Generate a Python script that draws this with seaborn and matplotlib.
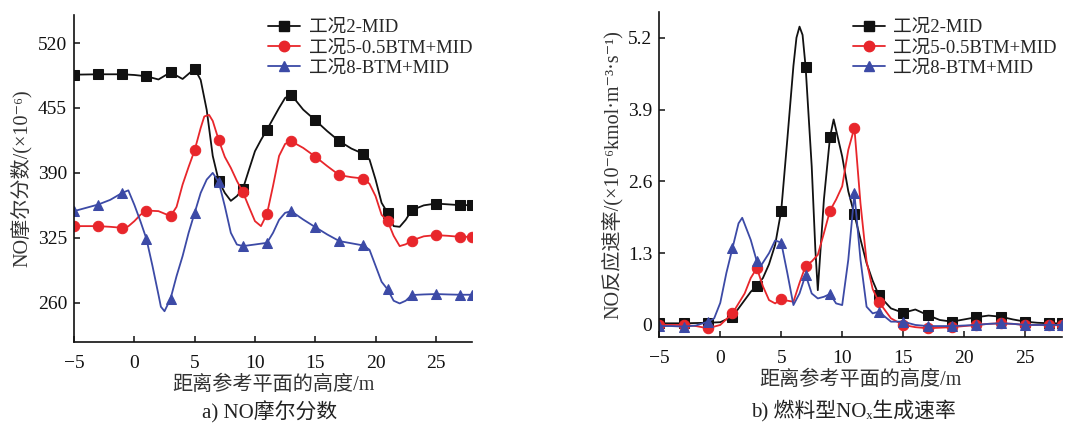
import numpy as np
import pandas as pd
import matplotlib
matplotlib.use("Agg")
import matplotlib.pyplot as plt
from matplotlib.lines import Line2D
import seaborn as sns

# ---------------- data ----------------
series_names = ["工况2-MID", "工况5-0.5BTM+MID", "工况8-BTM+MID"]
marker_x = [-5, -3, -1, 1, 3, 5, 7, 9, 11, 13, 15, 17, 19, 21, 23, 25, 27, 28]

# panel a: NO mole fraction (x1e-6)
a_black_x = [-5, -4, -3, -2, -1, 0, 1, 2, 3, 4, 5, 5.5, 6, 6.5, 7, 7.5, 8, 8.5, 9, 9.5, 10, 10.5, 11, 12, 12.5, 13,
             14, 15, 16, 17, 18, 19, 19.5, 20, 20.5, 21, 21.5, 22, 22.5, 23, 24, 25, 26, 27, 28]
a_black_y = [488.3, 488.5, 488.7, 488.7, 488.7, 488.0, 486.7, 483.5, 490.7, 484.0, 494.3, 483.0, 453.0, 407.0, 381.7,
             370.0, 362.0, 366.7, 374.0, 393.0, 411.7, 423.0, 433.3, 455.0, 465.0, 468.3,
             453.3, 442.7, 431.7, 421.7, 414.3, 409.0, 403.3, 383.3, 360.0, 350.0, 336.7, 336.0, 343.0, 352.7,
             357.5, 359.3, 358.5, 357.7, 357.7]

a_red_x = [-5, -4, -3, -2, -1, -0.5, 0, 0.5, 1, 2, 3, 3.5, 4, 4.5, 5, 5.5, 5.8, 6.2, 6.5, 7, 7.5, 8, 8.5, 9, 9.5,
           10, 10.5, 11, 11.5, 12, 12.5, 13, 14, 15, 16, 17, 18, 19, 19.5, 20, 20.5, 21, 21.5, 22, 22.5, 23, 24,
           25, 26, 27, 28]
a_red_y = [336.7, 336.7, 336.7, 336.0, 335.0, 336.5, 341.7, 348.0, 352.3, 351.7, 346.7, 356.0, 378.3, 396.0, 412.7,
           435.0, 446.5, 448.0, 442.0, 422.7, 406.0, 395.0, 382.0, 370.7, 356.0, 341.7, 336.7,
           349.0, 377.0, 407.0, 419.0, 421.7, 415.0, 406.3, 396.7, 387.7, 385.7, 384.3, 379.0, 366.7, 348.0,
           341.7, 327.0, 316.7, 318.5, 322.3, 326.5, 327.7, 327.0, 326.0, 326.0]

a_blue_x = [-5, -4, -3, -2, -1, -0.5, 0, 0.5, 1, 1.5, 2, 2.2, 2.5, 3, 3.5, 4, 4.5, 5, 5.5, 6, 6.5, 7, 7.5, 8, 8.5,
            9, 10, 11, 11.5, 12, 12.5, 13, 14, 15, 16, 17, 18, 19, 19.5, 20, 20.5, 21, 21.5, 22, 22.5, 23, 24, 25,
            26, 27, 28]
a_blue_y = [351.7, 355.0, 358.3, 363.0, 370.0, 372.5, 358.0, 341.7, 324.0, 297.0, 268.0, 256.0, 251.5, 264.0, 286.7,
            306.7, 330.0, 350.0, 370.0, 383.3, 390.0, 380.7, 356.7, 330.0, 318.3, 316.7, 318.3,
            320.0, 330.0, 343.0, 350.0, 351.7, 343.3, 335.7, 328.3, 321.7, 319.5, 317.3, 313.0, 297.0, 281.0,
            273.3, 262.0, 259.3, 262.0, 267.7, 268.3, 268.7, 268.3, 268.0, 268.0]

# panel b: fuel NOx formation rate (x1e-6 kmol m-3 s-1)
b_black_x = [-5, -4, -3, -2, -1, 0, 1, 1.5, 2, 2.5, 3, 3.5, 4, 4.5, 5, 5.5, 6, 6.25, 6.5, 6.75, 7, 7.5, 7.8, 8,
             8.5, 9, 9.3, 10, 10.5, 11, 11.5, 12, 12.5, 13, 14, 15, 16, 17, 18, 19, 20, 21, 22, 23, 24, 25, 26,
             27, 28]
b_black_y = [0.03, 0.03, 0.03, 0.035, 0.04, 0.05, 0.15, 0.3, 0.45, 0.6, 0.71, 0.85, 1.1, 1.45, 2.07, 3.36, 4.69,
             5.2, 5.40, 5.25, 4.67, 2.87, 1.36, 0.63, 2.27, 3.40, 3.72, 3.05, 2.42, 2.00, 1.55, 1.12, 0.8, 0.54,
             0.3, 0.22, 0.28, 0.18, 0.09, 0.06, 0.1, 0.14, 0.17, 0.15, 0.1, 0.06, 0.04, 0.03, 0.03]

b_red_x = [-5, -4, -3, -2, -1, 0, 1, 2, 2.5, 3, 3.5, 4, 4.5, 5, 5.5, 6, 6.5, 7, 7.5, 8, 8.5, 9, 9.5, 10, 10.5, 11,
           11.5, 12, 12.5, 13, 14, 15, 16, 17, 18, 19, 20, 21, 22, 23, 24, 25, 26, 27, 28]
b_red_y = [0.0, 0.0, 0.0, -0.02, -0.06, 0.0, 0.21, 0.57, 0.85, 1.03, 0.7, 0.45, 0.39, 0.47, 0.44, 0.42, 0.76, 1.07,
           1.15, 1.27, 1.66, 2.07, 2.27, 2.51, 3.17, 3.57, 2.2, 1.15, 0.65, 0.42, 0.12, 0.0, -0.04, -0.06,
           -0.05, -0.04, -0.02, 0.0, 0.02, 0.03, 0.02, 0.0, 0.0, 0.0, 0.0]

b_blue_x = [-5, -4, -3, -2, -1, -0.5, 0, 0.5, 1, 1.5, 1.8, 2.5, 3, 3.3, 4, 4.5, 5, 5.5, 6, 6.5, 7, 7.5, 8, 8.5, 9,
            9.5, 10, 10.5, 11, 11.5, 12, 12.5, 13, 14, 15, 16, 17, 18, 19, 20, 21, 22, 23, 24, 25, 26, 27, 28]
b_blue_y = [-0.02, -0.02, -0.03, -0.01, 0.06, 0.12, 0.4, 0.94, 1.39, 1.84, 1.94, 1.54, 1.15, 1.06, 1.3, 1.53, 1.49,
            0.94, 0.36, 0.57, 0.91, 0.57, 0.48, 0.51, 0.56, 0.39, 0.36, 1.18, 2.38, 1.18, 0.33, 0.21, 0.24,
            0.06, 0.06, 0.0, -0.02, -0.02, -0.02, -0.01, 0.0, 0.02, 0.03, 0.02, 0.0, 0.0, 0.0, 0.0]

a_yticks = [260, 325, 390, 455, 520]
b_yticks = [0, 1.3, 2.6, 3.9, 5.2]
b_yticklabels = ["0", "1.3", "2.6", "3.9", "5.2"]
xticks = [-5, 0, 5, 10, 15, 20, 25]

# ---------------- style ----------------
sns.set_theme(style="ticks")
plt.rcParams["font.family"] = ["Liberation Serif", "Noto Sans CJK SC", "DejaVu Serif", "DejaVu Sans"]
plt.rcParams["axes.unicode_minus"] = True

colors = ["#111111", "#e8262b", "#3c4aa6"]
markers = ["s", "o", "^"]

fig = plt.figure(figsize=(10.67, 4.25), dpi=100)
ax_a = fig.add_axes([0.0694, 0.1946, 0.373, 0.770])
ax_b = fig.add_axes([0.6179, 0.2064, 0.3771, 0.766])

panels = [
    (ax_a, [(a_black_x, a_black_y), (a_red_x, a_red_y), (a_blue_x, a_blue_y)]),
    (ax_b, [(b_black_x, b_black_y), (b_red_x, b_red_y), (b_blue_x, b_blue_y)]),
]

for ax, ser in panels:
    for (xs, ys), name, c, m in zip(ser, series_names, colors, markers):
        df = pd.DataFrame({"x": xs, "y": ys})
        mask = [x in marker_x for x in xs]
        sns.lineplot(data=df, x="x", y="y", ax=ax, color=c, lw=1.3, marker=m,
                     markersize=7.5 if m != "s" else 7, markevery=mask,
                     markeredgecolor=c, markerfacecolor=c, legend=False, sort=False)
    ax.set_xlim(-5, 28)
    ax.set_xticks(xticks)
    ax.set_xticklabels([("\u2212" + str(abs(t))) if t < 0 else str(t) for t in xticks])
    sns.despine(ax=ax)
    for s in ["left", "bottom"]:
        ax.spines[s].set_linewidth(1.2)
        ax.spines[s].set_color("#111111")
    ax.tick_params(direction="in", length=4, width=1.1, labelsize=14, colors="#111111", pad=5)
    ax.tick_params(axis="x", pad=9)
    ax.set_xlabel("距离参考平面的高度/m", fontsize=14.5, color="#333333", labelpad=3)

    handles = [Line2D([], [], color=c, marker=m, lw=1.3, markersize=7.5 if m != "s" else 7)
               for c, m in zip(colors, markers)]
    fx = 0.251 if ax is ax_a else 0.799
    ax.legend(handles, series_names, loc="upper left", bbox_to_anchor=(fx, 0.955),
              bbox_transform=fig.transFigure, frameon=False, fontsize=13.4, borderpad=0,
              borderaxespad=0, handlelength=1.75, handletextpad=0.45, labelspacing=0.17)

ax_a.set_ylim(220.4, 548)
ax_a.set_yticks(a_yticks)
ax_a.set_ylabel("NO摩尔分数/(×10⁻⁶)", fontsize=14.5, color="#333333", labelpad=4)

ax_b.set_ylim(-0.223, 5.67)
ax_b.set_yticks(b_yticks)
ax_b.set_yticklabels(b_yticklabels)
ax_b.set_ylabel("NO反应速率/(×10⁻⁶kmol·m⁻³·s⁻¹)", fontsize=14.5, color="#333333", labelpad=4)

fig.text(0.253, 0.031, "a) NO摩尔分数", ha="center", va="center", fontsize=15, color="#222222")
fig.text(0.80, 0.031, "b) 燃料型NOₓ生成速率", ha="center", va="center", fontsize=15, color="#222222")

fig.savefig("out.png", dpi=100, facecolor="white")
